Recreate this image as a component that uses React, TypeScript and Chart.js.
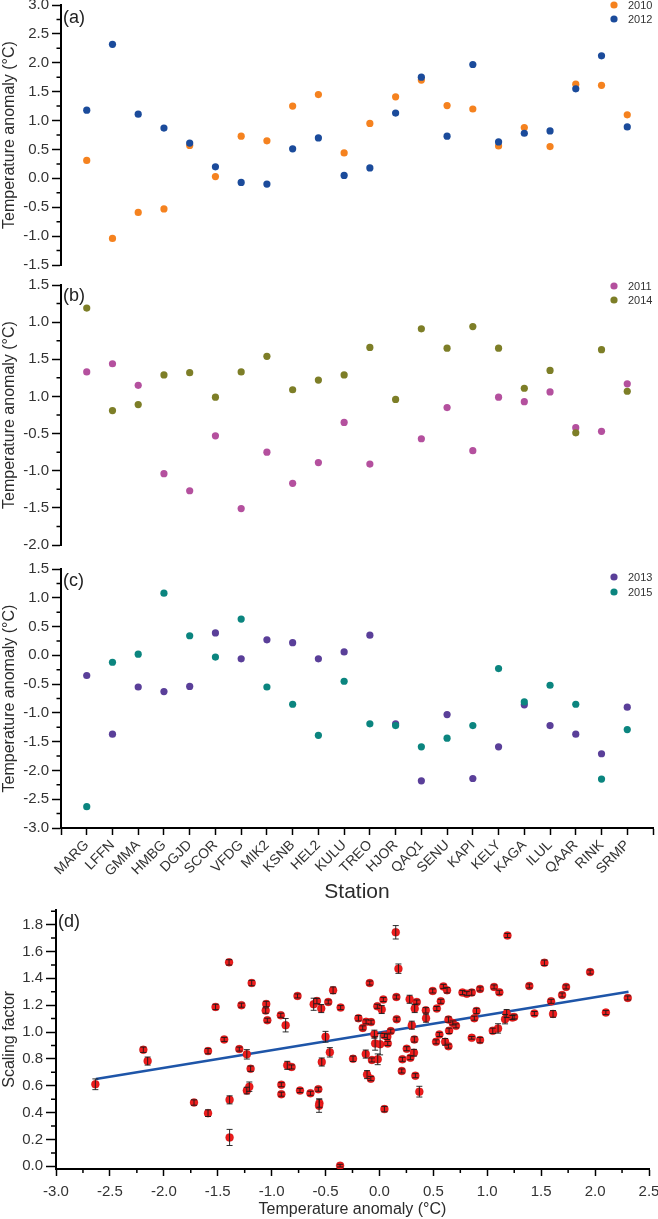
import React, { useEffect, useRef } from "react";
import { Chart, registerables } from "chart.js";

Chart.register(...registerables);

const FONT = "'Liberation Sans', Arial, Helvetica, sans-serif";
const TICK_COLOR = "#333333";
const TITLE_COLOR = "#2b2b2b";

// ---------- Data ----------
const STATIONS = ["MARG", "LFFN", "GMMA", "HMBG", "DGJD", "SCOR", "VFDG", "MIK2", "KSNB", "HEL2", "KULU", "TREO", "HJOR", "QAQ1", "SENU", "KAPI", "KELY", "KAGA", "ILUL", "QAAR", "RINK", "SRMP"];

const ANOM_2010 = [0.31, -1.04, -0.59, -0.53, 0.57, 0.03, 0.73, 0.65, 1.25, 1.45, 0.44, 0.95, 1.41, 1.70, 1.26, 1.20, 0.56, 0.88, 0.55, 1.63, 1.61, 1.10];
const ANOM_2012 = [1.18, 2.32, 1.11, 0.87, 0.61, 0.20, -0.07, -0.10, 0.51, 0.70, 0.05, 0.18, 1.13, 1.75, 0.73, 1.97, 0.63, 0.78, 0.82, 1.55, 2.12, 0.89];
const ANOM_2011 = [0.33, 0.44, 0.15, -1.04, -1.27, -0.53, -1.51, -0.75, -1.17, -0.89, -0.35, -0.91, null, -0.57, -0.15, -0.73, -0.01, -0.07, 0.06, -0.42, -0.47, 0.17];
const ANOM_2014 = [1.19, -0.19, -0.11, 0.29, 0.32, -0.01, 0.33, 0.54, 0.09, 0.22, 0.29, 0.66, -0.04, 0.91, 0.65, 0.94, 0.65, 0.11, 0.35, -0.49, 0.63, 0.07];
const ANOM_2013 = [-0.35, -1.37, -0.55, -0.63, -0.54, 0.39, -0.06, 0.27, 0.22, -0.06, 0.06, 0.35, -1.19, -2.18, -1.03, -2.14, -1.59, -0.86, -1.22, -1.37, -1.71, -0.90];
const ANOM_2015 = [-2.63, -0.12, 0.02, 1.08, 0.34, -0.03, 0.63, -0.55, -0.85, -1.39, -0.45, -1.19, -1.22, -1.59, -1.44, -1.22, -0.23, -0.81, -0.52, -0.85, -2.15, -1.29];

const A_TICKS = [-1.5, -1.0, -0.5, 0.0, 0.5, 1.0, 1.5, 2.0, 2.5, 3.0];
const B_TICKS = [-2.0, -1.5, -1.0, -0.5, 0.0, 0.5, 1.0, 1.5];
const B_TICK_LABELS = ["-2.0", "-1.5", "-1.0", "-0.5", "1.0", "1.5", "1.0", "1.5"];
const C_TICKS = [-3.0, -2.5, -2.0, -1.5, -1.0, -0.5, 0.0, 0.5, 1.0, 1.5];

const D_X_TICKS = [-3.0, -2.5, -2.0, -1.5, -1.0, -0.5, 0.0, 0.5, 1.0, 1.5, 2.0, 2.5];
const D_Y_TICKS = [0.0, 0.2, 0.4, 0.6, 0.8, 1.0, 1.2, 1.4, 1.6, 1.8];

const D_X = [
  -2.635, -2.19, -2.15, -1.72, -1.59, -1.59, -1.52, -1.395, -1.44, -1.39,
  -1.39, -1.28, -1.30, -1.185, -1.23, -1.195, -1.23, -1.207, -1.05, -1.055,
  -1.04, -0.915, -0.87, -0.91, -0.91, -0.855, -0.815, -0.76, -0.737, -0.64,
  -0.61, -0.58, -0.54, -0.475, -0.43, -0.36, -0.567, -0.557, -0.56, -0.50,
  -0.46, -0.535, -0.365, -0.245, -0.195, -0.155, -0.124, -0.078, -0.09, -0.127,
  -0.115, -0.08, -0.07, -0.047, -0.04, -0.02, 0.021, 0.036, -0.016, 0.006,
  0.046, 0.073, 0.077, 0.105, 0.046, 0.151, 0.176, 0.157, 0.16, 0.207,
  0.213, 0.253, 0.287, 0.30, 0.28, 0.346, 0.327, 0.324, 0.32, 0.333,
  0.37, 0.43, 0.432, 0.494, 0.532, 0.569, 0.525, 0.556, 0.593, 0.627,
  0.609, 0.64, 0.64, 0.646, 0.68, 0.71, 0.77, 0.81, 0.856, 0.856,
  0.90, 0.88, 0.933, 0.933, 1.063, 1.051, 1.112, 1.187, 1.10, 1.165,
  1.18, 1.233, 1.249, 1.39, 1.437, 1.53, 1.592, 1.61, 1.694, 1.731,
  1.954, 2.10, 2.303,
];
const D_Y = [
  0.611, 0.868, 0.784, 0.475, 0.858, 0.396, 1.187, 1.519, 0.945, 0.495,
  0.215, 1.20, 0.873, 1.365, 0.834, 0.727, 0.564, 0.593, 1.209, 1.160,
  1.088, 1.125, 1.051, 0.608, 0.537, 0.752, 0.740, 1.269, 0.564, 0.544,
  1.207, 1.231, 1.175, 1.224, 1.311, 1.182, 0.574, 0.470, 0.452, 0.965,
  0.849, 0.777, 0.005, 0.801, 1.103, 1.031, 1.076, 1.074, 1.365, 0.836,
  0.683, 0.653, 0.792, 0.984, 0.915, 1.192, 1.168, 1.242, 0.797, 0.91,
  0.975, 0.965, 0.915, 1.007, 0.426, 1.743, 1.472, 1.261, 1.096, 0.710,
  0.797, 0.876, 0.809, 1.051, 1.244, 1.224, 1.175, 0.945, 0.846, 0.675,
  0.556, 1.162, 1.103, 1.306, 1.175, 1.229, 0.927, 0.982, 1.340, 1.311,
  0.927, 0.895, 1.093, 1.009, 1.068, 1.046, 1.294, 1.286, 1.294, 0.957,
  1.157, 1.103, 1.321, 0.94, 1.336, 1.009, 1.296, 1.719, 1.027, 1.096,
  1.138, 1.108, 1.113, 1.343, 1.138, 1.516, 1.229, 1.135, 1.276, 1.336,
  1.447, 1.145, 1.254,
];
const D_ERR = [
  0.04, 0.02, 0.03, 0.02, 0.02, 0.025, 0.02, 0.02, 0.015, 0.03,
  0.06, 0.015, 0.015, 0.02, 0.035, 0.02, 0.025, 0.035, 0.02, 0.02,
  0.015, 0.015, 0.05, 0.015, 0.015, 0.03, 0.015, 0.015, 0.015, 0.015,
  0.045, 0.02, 0.03, 0.015, 0.025, 0.015, 0.015, 0.03, 0.05, 0.04,
  0.035, 0.03, 0.01, 0.02, 0.02, 0.015, 0.015, 0.015, 0.015, 0.03,
  0.03, 0.015, 0.015, 0.03, 0.05, 0.015, 0.03, 0.015, 0.04, 0.08,
  0.015, 0.02, 0.015, 0.015, 0.02, 0.05, 0.035, 0.015, 0.015, 0.015,
  0.015, 0.015, 0.015, 0.03, 0.03, 0.015, 0.03, 0.02, 0.025, 0.015,
  0.04, 0.02, 0.03, 0.015, 0.015, 0.015, 0.015, 0.015, 0.015, 0.02,
  0.025, 0.015, 0.02, 0.02, 0.015, 0.015, 0.015, 0.015, 0.02, 0.01,
  0.02, 0.015, 0.015, 0.02, 0.015, 0.02, 0.015, 0.015, 0.035, 0.035,
  0.03, 0.015, 0.015, 0.015, 0.015, 0.02, 0.015, 0.025, 0.015, 0.015,
  0.015, 0.015, 0.015,
];

const FIT_X = [-2.63, 2.31];
const FIT_Y = [0.65, 1.30];

// ---------- helpers ----------
const midpoints = (t: number[]) => t.slice(1).map((v, i) => (v + t[i]) / 2);
const X_POS = [0, ...STATIONS.map((_, i) => i + 1), STATIONS.length + 1];

function minorTicksPlugin(yVals: number[], xVals: number[], lenY: number, lenX: number) {
  return {
    id: "minorTicks",
    afterDraw(chart: any) {
      const { ctx, chartArea } = chart;
      const ys = chart.scales.y;
      const xs = chart.scales.x;
      ctx.save();
      ctx.strokeStyle = "#000";
      ctx.lineWidth = 1.5;
      ctx.beginPath();
      yVals.forEach((v) => {
        const py = ys.getPixelForValue(v);
        ctx.moveTo(chartArea.left - lenY, py);
        ctx.lineTo(chartArea.left, py);
      });
      xVals.forEach((v) => {
        const px = xs.getPixelForValue(v);
        ctx.moveTo(px, chartArea.bottom);
        ctx.lineTo(px, chartArea.bottom + lenX);
      });
      ctx.stroke();
      ctx.restore();
    },
  };
}

function decorPlugin(label: string, labelDy: number, legendRows: number[]) {
  return {
    id: "decor",
    afterDraw(chart: any) {
      const { ctx, chartArea } = chart;
      ctx.save();
      ctx.fillStyle = "#222";
      ctx.font = `18px ${FONT}`;
      ctx.textBaseline = "middle";
      ctx.textAlign = "left";
      ctx.fillText(label, chartArea.left + 2, chartArea.top + labelDy);
      chart.data.datasets.forEach((ds: any, i: number) => {
        if (i >= legendRows.length) return;
        const y = legendRows[i];
        ctx.beginPath();
        ctx.fillStyle = ds.backgroundColor;
        ctx.arc(614, y, 3.6, 0, Math.PI * 2);
        ctx.fill();
        ctx.fillStyle = "#333";
        ctx.font = `11px ${FONT}`;
        ctx.fillText(ds.label, 628, y + 0.5);
      });
      ctx.restore();
    },
  };
}

const errorBarPlugin = {
  id: "errorBars",
  afterDatasetsDraw(chart: any) {
    const { ctx } = chart;
    const xs = chart.scales.x;
    const ys = chart.scales.y;
    ctx.save();
    ctx.strokeStyle = "rgba(25,25,25,0.9)";
    ctx.lineWidth = 1;
    D_X.forEach((x, i) => {
      const px = xs.getPixelForValue(x);
      const top = ys.getPixelForValue(D_Y[i] + D_ERR[i]);
      const bot = ys.getPixelForValue(D_Y[i] - D_ERR[i]);
      ctx.beginPath();
      ctx.moveTo(px, top);
      ctx.lineTo(px, bot);
      ctx.moveTo(px - 3, top);
      ctx.lineTo(px + 3, top);
      ctx.moveTo(px - 3, bot);
      ctx.lineTo(px + 3, bot);
      ctx.stroke();
    });
    ctx.restore();
  },
};

interface Series {
  label: string;
  values: (number | null)[];
  color: string;
}

function stationConfig(p: {
  series: Series[];
  yMin: number;
  yMax: number;
  yTicks: number[];
  yLabels?: string[];
  padTop: number;
  padBottom: number;
  panel: string;
  labelDy: number;
  legendRows: number[];
  showX: boolean;
  xHeight?: number;
}) {
  const n = p.series.length;
  return {
    type: "scatter",
    data: {
      datasets: p.series.map((s, i) => ({
        label: s.label,
        order: n - i,
        data: s.values
          .map((v, j) => (v === null ? null : { x: j + 1, y: v }))
          .filter((d) => d !== null),
        backgroundColor: s.color,
        borderWidth: 0,
        pointRadius: 3.6,
        pointHoverRadius: 3.6,
      })),
    },
    options: {
      responsive: false,
      animation: false,
      devicePixelRatio: 1,
      events: [],
      layout: { padding: { left: 0, right: 5, top: p.padTop, bottom: p.padBottom } },
      plugins: { legend: { display: false }, tooltip: { enabled: false } },
      scales: {
        x: {
          type: "linear",
          min: 0,
          max: STATIONS.length + 1,
          display: p.showX,
          afterBuildTicks: (s: any) => {
            s.ticks = X_POS.map((v) => ({ value: v }));
          },
          afterFit: (s: any) => {
            if (p.xHeight) s.height = p.xHeight;
            s.paddingLeft = 0;
            s.paddingRight = 0;
          },
          grid: { drawOnChartArea: false, drawTicks: true, tickLength: 7, tickWidth: 1.5, tickColor: "#000" },
          border: { display: true, color: "#000", width: 2 },
          ticks: {
            autoSkip: false,
            minRotation: 45,
            maxRotation: 45,
            padding: 2,
            color: TICK_COLOR,
            font: { family: FONT, size: 14 },
            callback: (v: any) => STATIONS[Number(v) - 1] ?? "",
          },
          title: {
            display: true,
            text: "Station",
            color: TITLE_COLOR,
            font: { family: FONT, size: 21 },
            padding: { top: 0, bottom: 0 },
          },
        },
        y: {
          type: "linear",
          min: p.yMin,
          max: p.yMax,
          afterBuildTicks: (s: any) => {
            s.ticks = p.yTicks.map((v) => ({ value: v }));
          },
          afterFit: (s: any) => {
            s.width = 61;
            s.paddingTop = 0;
            s.paddingBottom = 0;
          },
          grid: { drawOnChartArea: false, drawTicks: true, tickLength: 9, tickWidth: 1.5, tickColor: "#000" },
          border: { display: true, color: "#000", width: 2 },
          ticks: {
            padding: 3,
            color: TICK_COLOR,
            font: { family: FONT, size: 15 },
            callback: (v: any) => {
              const i = p.yTicks.indexOf(Number(v));
              return p.yLabels ? p.yLabels[i] : Number(v).toFixed(1);
            },
          },
          title: {
            display: true,
            text: "Temperature anomaly (°C)",
            color: TITLE_COLOR,
            font: { family: FONT, size: 16 },
            padding: { top: 0, bottom: 0 },
          },
        },
      },
    },
    plugins: [minorTicksPlugin(midpoints(p.yTicks), [], 4.5, 0), decorPlugin(p.panel, p.labelDy, p.legendRows)],
  };
}

function scalingConfig() {
  return {
    type: "scatter",
    data: {
      datasets: [
        {
          label: "Scaling factor",
          order: 0,
          data: D_X.map((x, i) => ({ x, y: D_Y[i] })),
          backgroundColor: "#ee1c1c",
          borderColor: "rgba(170,0,0,0.45)",
          borderWidth: 0.6,
          pointRadius: 4,
          pointHoverRadius: 4,
        },
        {
          type: "line",
          label: "Fit",
          order: 1,
          data: FIT_X.map((x, i) => ({ x, y: FIT_Y[i] })),
          borderColor: "#1e55a8",
          borderWidth: 2.5,
          pointRadius: 0,
          fill: false,
        },
      ],
    },
    options: {
      responsive: false,
      animation: false,
      devicePixelRatio: 1,
      events: [],
      layout: { padding: { left: 0, right: 9, top: 4, bottom: 0 } },
      plugins: { legend: { display: false }, tooltip: { enabled: false } },
      scales: {
        x: {
          type: "linear",
          min: -3,
          max: 2.5,
          afterBuildTicks: (s: any) => {
            s.ticks = D_X_TICKS.map((v) => ({ value: v }));
          },
          afterFit: (s: any) => {
            s.height = 50;
            s.paddingLeft = 0;
            s.paddingRight = 0;
          },
          grid: { drawOnChartArea: false, drawTicks: true, tickLength: 7, tickWidth: 1.5, tickColor: "#000" },
          border: { display: true, color: "#000", width: 2 },
          ticks: {
            autoSkip: false,
            maxRotation: 0,
            padding: 7,
            color: TICK_COLOR,
            font: { family: FONT, size: 15 },
            callback: (v: any) => Number(v).toFixed(1),
          },
          title: {
            display: true,
            text: "Temperature anomaly (°C)",
            color: TITLE_COLOR,
            font: { family: FONT, size: 16 },
            padding: { top: 0, bottom: 0 },
          },
        },
        y: {
          type: "linear",
          min: -0.02,
          max: 1.912,
          afterBuildTicks: (s: any) => {
            s.ticks = D_Y_TICKS.map((v) => ({ value: v }));
          },
          afterFit: (s: any) => {
            s.width = 56;
            s.paddingTop = 0;
            s.paddingBottom = 0;
          },
          grid: { drawOnChartArea: false, drawTicks: true, tickLength: 10, tickWidth: 1.5, tickColor: "#000" },
          border: { display: true, color: "#000", width: 2 },
          ticks: {
            padding: 3,
            color: TICK_COLOR,
            font: { family: FONT, size: 15 },
            callback: (v: any) => Number(v).toFixed(1),
          },
          title: {
            display: true,
            text: "Scaling factor",
            color: TITLE_COLOR,
            font: { family: FONT, size: 16 },
            padding: { top: 0, bottom: 0 },
          },
        },
      },
    },
    plugins: [
      minorTicksPlugin([...midpoints(D_Y_TICKS), 1.9], midpoints(D_X_TICKS), 5, 4),
      decorPlugin("(d)", 12, []),
      errorBarPlugin,
    ],
  };
}

function ChartBox({ top, height, build }: { top: number; height: number; build: () => any }) {
  const ref = useRef<HTMLCanvasElement>(null);
  useEffect(() => {
    const chart = new Chart(ref.current as HTMLCanvasElement, build());
    return () => chart.destroy();
  }, []);
  return (
    <canvas
      ref={ref}
      width={658}
      height={height}
      style={{ position: "absolute", left: 0, top, width: 658, height, display: "block" }}
    />
  );
}

export default function App() {
  return (
    <div style={{ position: "absolute", left: 0, top: 0, width: 658, height: 1219, background: "#fff", overflow: "hidden" }}>
      <ChartBox
        top={0}
        height={272}
        build={() =>
          stationConfig({
            series: [
              { label: "2010", values: ANOM_2010, color: "#f5821f" },
              { label: "2012", values: ANOM_2012, color: "#1b4b9b" },
            ],
            yMin: -1.5,
            yMax: 3.0,
            yTicks: A_TICKS,
            padTop: 5,
            padBottom: 7,
            panel: "(a)",
            labelDy: 13,
            legendRows: [5, 19],
            showX: false,
          })
        }
      />
      <ChartBox
        top={272}
        height={283}
        build={() =>
          stationConfig({
            series: [
              { label: "2011", values: ANOM_2011, color: "#b4509e" },
              { label: "2014", values: ANOM_2014, color: "#7d7e27" },
            ],
            yMin: -2.0,
            yMax: 1.5,
            yTicks: B_TICKS,
            yLabels: B_TICK_LABELS,
            padTop: 13,
            padBottom: 10,
            panel: "(b)",
            labelDy: 11,
            legendRows: [14, 28],
            showX: false,
          })
        }
      />
      <ChartBox
        top={555}
        height={350}
        build={() =>
          stationConfig({
            series: [
              { label: "2013", values: ANOM_2013, color: "#5a3f99" },
              { label: "2015", values: ANOM_2015, color: "#0b857f" },
            ],
            yMin: -3.0,
            yMax: 1.5,
            yTicks: C_TICKS,
            padTop: 14,
            padBottom: 0,
            panel: "(c)",
            labelDy: 12,
            legendRows: [22, 37],
            showX: true,
            xHeight: 77,
          })
        }
      />
      <ChartBox top={905} height={314} build={scalingConfig} />
    </div>
  );
}
